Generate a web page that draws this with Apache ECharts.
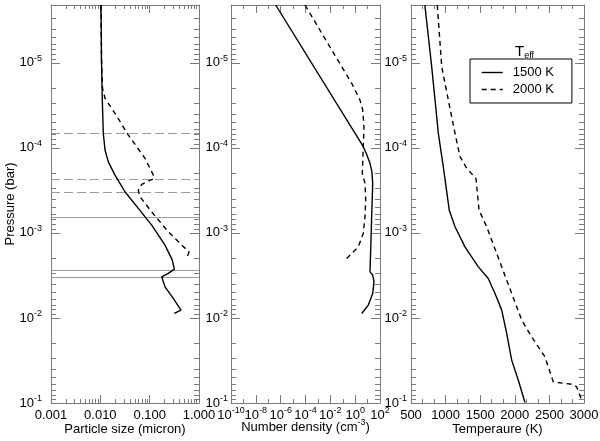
<!DOCTYPE html>
<html><head><meta charset="utf-8">
<script src="https://cdn.jsdelivr.net/npm/echarts@6/dist/echarts.min.js"></script>
<style>html,body{margin:0;padding:0;background:#fff}#c{width:600px;height:441px}</style>
</head><body><div id="c"></div>
<script>
// ---------- axis ranges & tick labels ----------
const pressureRange = [2.09e-6, 0.1];          // bar (top -> bottom)
const pressureLabelExps = [-5, -4, -3, -2, -1];
const sizeRange = [0.001, 1];
const sizeLabels = ['0.001', '0.010', '0.100', '1.000'];
const densityRange = [1e-10, 1e2];
const densityLabelExps = [-10, -8, -6, -4, -2, 0, 2];
const tempRange = [500, 3000];
const tempLabels = [500, 1000, 1500, 2000, 2500, 3000];
const seriesNames = ['1500 K', '2000 K'];

// ---------- panel 1: particle size (micron) ----------
const size1500  = [0.01032, 0.01056, 0.01096, 0.01148, 0.01245, 0.01453, 0.01982, 0.0316, 0.0589, 0.1099, 0.2047, 0.2877, 0.3158, 0.2388, 0.1754, 0.2047, 0.3013, 0.4315, 0.3158];
const sizeP1500 = [2.09e-6, 9.27e-6, 2.74e-5, 6.74e-5, 1.06e-4, 1.46e-4, 2.09e-4, 3.28e-4, 5.15e-4, 8.09e-4, 1.39e-3, 2.09e-3, 2.67e-3, 2.99e-3, 3.28e-3, 4.31e-3, 5.90e-3, 8.09e-3, 8.85e-3];
const size2000  = [0.01032, 0.01056, 0.01107, 0.01245, 0.0208, 0.0369, 0.0806, 0.1186, 0.1208, 0.0690, 0.0589, 0.0637, 0.1099, 0.2388, 0.4467, 0.6266, 0.5636];
const sizeP2000 = [2.09e-6, 9.27e-6, 1.98e-5, 2.62e-5, 4.11e-5, 7.06e-5, 1.33e-4, 2.09e-4, 2.30e-4, 2.69e-4, 3.13e-4, 3.76e-4, 5.65e-4, 9.70e-4, 1.39e-3, 1.67e-3, 2.00e-3];
const dashedLevels = [6.70e-5, 2.35e-4, 3.34e-4];
const solidLevels  = [6.43e-4, 2.74e-3, 3.34e-3];

// ---------- panel 2: number density (cm^-3) ----------
const dens1500  = [3.98e-7, 4.52, 8.97, 15.6, 22.6, 25.8, 21.4, 17.8, 15.6, 25.8, 32.9, 25.8, 11.4, 3.36];
const densP1500 = [2.09e-6, 9.70e-5, 1.22e-4, 1.52e-4, 1.93e-4, 2.62e-4, 6.47e-4, 1.59e-3, 2.87e-3, 3.13e-3, 3.76e-3, 5.15e-3, 7.06e-3, 8.85e-3];
const dens2000  = [9.12e-5, 0.0129, 0.526, 2.45, 4.04, 5.14, 4.52, 3.75, 6.19, 7.05, 6.19, 4.52, 1.79, 0.526, 0.208];
const densP2000 = [2.09e-6, 7.06e-6, 1.74e-5, 2.74e-5, 3.59e-5, 5.65e-5, 9.70e-5, 2.00e-4, 2.62e-4, 4.11e-4, 6.47e-4, 1.01e-3, 1.46e-3, 1.74e-3, 2.00e-3];

// ---------- panel 3: temperature (K) ----------
const temp1500  = [700, 799, 895, 967, 1053, 1136, 1280, 1473, 1617, 1714, 1811, 1883, 1955, 2051, 2147];
const tempP1500 = [2.09e-6, 1.11e-5, 6.74e-5, 1.67e-4, 5.40e-4, 8.47e-4, 1.46e-3, 2.51e-3, 3.43e-3, 5.15e-3, 8.09e-3, 1.52e-2, 3.13e-2, 5.40e-2, 9.86e-2];
const temp2000  = [880, 944, 1039, 1136, 1208, 1305, 1439, 1483, 1594, 1811, 1955, 2100, 2244, 2436, 2556, 2845, 2895, 2967];
const tempP2000 = [2.09e-6, 1.11e-5, 2.74e-5, 6.74e-5, 1.27e-4, 1.74e-4, 2.29e-4, 5.40e-4, 8.47e-4, 2.51e-3, 5.15e-3, 1.06e-2, 1.67e-2, 2.87e-2, 5.65e-2, 6.05e-2, 6.47e-2, 9.27e-2];

// ---------- build ----------
const L = Math.log10;
const FONT = '"Liberation Sans", Arial, Helvetica, sans-serif';
const AX = '#7a7a7a';
const rich = {
  b: {fontSize: 13, fontFamily: FONT, color: '#000', lineHeight: 13},
  s: {fontSize: 9, fontFamily: FONT, color: '#000', lineHeight: 9, padding: [0, 0, 9, 0]}
};
const pow = v => '{b|10}{s|' + Math.round(v) + '}';

function logMinors(a, b) {
  const out = [];
  for (let n = Math.floor(a) - 1; n <= Math.ceil(b); n++)
    for (let k = 2; k <= 9; k++) { const v = n + L(k); if (v > a && v < b) out.push(v); }
  return out;
}
const yMin = L(pressureRange[0]), yMax = L(pressureRange[1]);
const yMajor = pressureLabelExps.slice();
const yMinor = logMinors(yMin, yMax);

const panels = [
  {min: L(sizeRange[0]), max: L(sizeRange[1]), major: sizeLabels.map(s => L(parseFloat(s))),
   minor: logMinors(L(sizeRange[0]), L(sizeRange[1])),
   fmt: v => sizeLabels[Math.round(v + 3)] || '', name: '{n|Particle size (micron)}', yLabMargin: 9, nameGap: 20},
  {min: L(densityRange[0]), max: L(densityRange[1]), major: densityLabelExps,
   minor: densityLabelExps.slice(0, -1).map(v => v + 1),
   fmt: pow, name: '{n|Number density (cm}{s|-3}{n|)}', yLabMargin: 3, nameGap: 18},
  {min: tempRange[0], max: tempRange[1], major: tempLabels,
   minor: tempLabels.slice(0, -1).flatMap(v => [v + 500 / 3, v + 1000 / 3]),
   fmt: v => String(Math.round(v)), name: '{n|Temperaure (K)}', yLabMargin: 4, nameGap: 20}
];
const grids = [
  {left: 51, top: 5, width: 148, height: 398, outerBoundsMode: 'none', containLabel: false},
  {left: 231, top: 5, width: 149, height: 398, outerBoundsMode: 'none', containLabel: false},
  {left: 411, top: 5, width: 173, height: 398, outerBoundsMode: 'none', containLabel: false}
];

const xAxis = [], yAxis = [];
panels.forEach((p, g) => {
  const base = {type: 'value', gridIndex: g, min: p.min, max: p.max, splitLine: {show: false}};
  const tick = (vals, len) => ({show: true, inside: true, length: len, customValues: vals, lineStyle: {color: AX, width: 1}});
  xAxis.push(Object.assign({}, base, {
    position: 'bottom',
    axisLine: {show: true, onZero: false, lineStyle: {color: AX, width: 1}},
    axisTick: tick(p.major, 8),
    axisLabel: {show: true, customValues: p.major, formatter: p.fmt, margin: 6, color: '#000',
      fontSize: 13, fontFamily: FONT, rich: rich, hideOverlap: false, showMinLabel: true, showMaxLabel: true},
    name: p.name, nameLocation: 'middle', nameGap: p.nameGap, nameMoveOverlap: false,
    nameTextStyle: {rich: {n: {fontSize: 13, fontFamily: FONT, color: '#000', lineHeight: 13},
                           s: {fontSize: 9, fontFamily: FONT, color: '#000', lineHeight: 9, padding: [0, 0, 9, 0]}}}
  }));
  xAxis.push(Object.assign({}, base, {position: 'bottom', axisLine: {show: false, onZero: false},
    axisTick: tick(p.minor, 4), axisLabel: {show: false}}));
  xAxis.push(Object.assign({}, base, {position: 'top',
    axisLine: {show: true, onZero: false, lineStyle: {color: AX, width: 1}},
    axisTick: tick(p.major, 8), axisLabel: {show: false}}));
  xAxis.push(Object.assign({}, base, {position: 'top', axisLine: {show: false, onZero: false},
    axisTick: tick(p.minor, 4), axisLabel: {show: false}}));

  const yb = {type: 'value', gridIndex: g, min: yMin, max: yMax, inverse: true, splitLine: {show: false}};
  yAxis.push(Object.assign({}, yb, {position: 'left',
    axisLine: {show: true, onZero: false, lineStyle: {color: AX, width: 1}},
    axisTick: tick(yMajor, 9),
    axisLabel: {show: true, customValues: yMajor, formatter: pow, margin: p.yLabMargin, rich: rich,
      showMinLabel: true, showMaxLabel: true, hideOverlap: false},
    name: g === 0 ? 'Pressure (bar)' : '', nameLocation: 'middle', nameGap: 34, nameRotate: 90,
    nameMoveOverlap: false,
    nameTextStyle: {fontSize: 13, fontFamily: FONT, color: '#000'}
  }));
  yAxis.push(Object.assign({}, yb, {position: 'left', axisLine: {show: false, onZero: false},
    axisTick: tick(yMinor, 5), axisLabel: {show: false}}));
  yAxis.push(Object.assign({}, yb, {position: 'right',
    axisLine: {show: true, onZero: false, lineStyle: {color: AX, width: 1}},
    axisTick: tick(yMajor, 9), axisLabel: {show: false}}));
  yAxis.push(Object.assign({}, yb, {position: 'right', axisLine: {show: false, onZero: false},
    axisTick: tick(yMinor, 5), axisLabel: {show: false}}));
});

const toPairs = (xs, ps, logX) => xs.map((x, i) => [logX ? L(x) : x, L(ps[i])]);
const lineSeries = (g, name, data, dashed, extra) => Object.assign({
  type: 'line', name: name, xAxisIndex: g * 4, yAxisIndex: g * 4, data: data,
  symbol: 'none', showSymbol: false, smooth: false, silent: true, animation: false, z: 5,
  lineStyle: {color: '#000', width: 1.4, type: dashed ? [5, 4] : 'solid'},
  itemStyle: {color: '#000'}
}, extra || {});

const levelLines = {
  symbol: 'none', silent: true, animation: false, label: {show: false},
  data: dashedLevels.map(v => ({yAxis: L(v), lineStyle: {color: '#9a9a9a', width: 1, type: [9, 4]}}))
    .concat(solidLevels.map(v => ({yAxis: L(v), lineStyle: {color: '#9a9a9a', width: 1, type: 'solid'}})))
};

const series = [
  lineSeries(0, seriesNames[0], toPairs(size1500, sizeP1500, true), false, {markLine: levelLines}),
  lineSeries(0, seriesNames[1], toPairs(size2000, sizeP2000, true), true),
  lineSeries(1, seriesNames[0], toPairs(dens1500, densP1500, true), false),
  lineSeries(1, seriesNames[1], toPairs(dens2000, densP2000, true), true),
  lineSeries(2, seriesNames[0], toPairs(temp1500, tempP1500, false), false),
  lineSeries(2, seriesNames[1], toPairs(temp2000, tempP2000, false), true)
];

const chart = echarts.init(document.getElementById('c'), null, {renderer: 'canvas'});
chart.setOption({
  animation: false,
  backgroundColor: '#fff',
  textStyle: {fontFamily: FONT},
  title: {
    text: '{t|T}{e|eff}', left: 510, top: 38,
    textStyle: {fontWeight: 'normal', rich: {t: {fontSize: 15, fontFamily: FONT, color: '#000', fontWeight: 'normal'},
                       e: {fontSize: 9, fontFamily: FONT, color: '#000', fontWeight: 'normal', padding: [8, 0, 0, 0]}}}
  },
  legend: {
    data: seriesNames, orient: 'vertical', left: 470, top: 59,
    padding: [7, 18, 7, 11], itemGap: 4, itemWidth: 21, itemHeight: 13,
    borderColor: '#000', borderWidth: 1, backgroundColor: '#fff',
    selectedMode: false,
    itemStyle: {opacity: 0, color: 'rgba(0,0,0,0)', borderWidth: 0},
    lineStyle: {width: 1.4, color: '#000'},
    textStyle: {fontSize: 13, fontFamily: FONT, color: '#000', padding: [0, 0, 0, 5]}
  },
  grid: grids,
  xAxis: xAxis,
  yAxis: yAxis,
  series: series
});
</script></body></html>
